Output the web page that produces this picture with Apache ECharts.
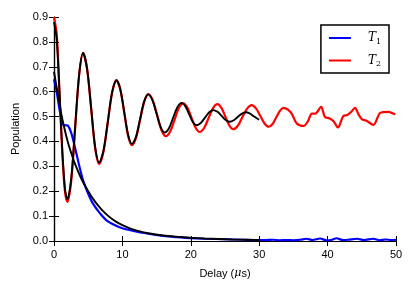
<!DOCTYPE html>
<html><head><meta charset="utf-8">
<script src="https://cdn.jsdelivr.net/npm/echarts@6/dist/echarts.min.js"></script>
<style>html,body{margin:0;padding:0;background:#fff}#c{width:415px;height:294px}</style>
</head><body><div id="c"></div>
<script>
const xTicks = [0, 10, 20, 30, 40, 50];
const yTicks = ['0.0','0.1','0.2','0.3','0.4','0.5','0.6','0.7','0.8','0.9'];

// T1 measurement (blue)
const t1X = [0,0.35,0.8,1.3,1.7,2.05,2.55,3.27,3.8,4.25,5,5.7,6.7,7.67,9,10.1,12.3,14,16,18,20,22,25,28,30,31,32,33,34,35,36,36.9,37.8,38.9,39.8,40.5,41.3,42.2,43,44.3,45.3,46.7,47.6,48.5,49.3,50];
const t1Y = [0.65,0.606,0.53,0.468,0.465,0.463,0.432,0.352,0.29,0.244,0.19,0.15,0.112,0.083,0.062,0.05,0.036,0.028,0.02,0.015,0.011,0.009,0.007,0.005,0.004,0.004,0.005,0.003,0.004,0.003,0.005,0.009,0.004,0.01,0.003,0.004,0.011,0.004,0.005,0.009,0.004,0.009,0.003,0.006,0.004,0.005];

// T2 measurement (red)
const t2X = [0,0.4,0.8,1.2,1.6,1.96,2.53,3.1,3.68,4.25,4.84,5.43,6.01,6.6,7.23,7.87,8.5,9.13,9.7,10.27,10.83,11.4,12.0,12.6,13.2,13.8,14.44,15.08,15.71,16.35,16.99,17.63,18.26,18.9,19.5,20.1,20.7,21.3,21.95,22.6,23.25,23.9,24.48,25.05,25.63,26.2,26.88,27.55,28.23,28.9,29.53,30.15,30.78,31.4,31.95,32.5,33.05,33.6,34.2,34.75,35.5,36.5,37.1,37.7,38.2,39.05,39.6,40.3,40.9,41.5,42.3,42.9,43.5,44.0,44.5,45.0,45.7,46.7,47.7,48.9,49.9,50];
const t2Y = [0.9,0.83,0.6,0.36,0.2,0.157,0.245,0.457,0.668,0.756,0.691,0.533,0.374,0.309,0.358,0.478,0.597,0.646,0.608,0.516,0.423,0.385,0.415,0.488,0.56,0.59,0.565,0.506,0.446,0.421,0.44,0.487,0.534,0.553,0.536,0.496,0.455,0.438,0.454,0.494,0.534,0.55,0.535,0.5,0.464,0.449,0.463,0.498,0.532,0.546,0.533,0.503,0.472,0.459,0.47,0.497,0.524,0.535,0.528,0.512,0.472,0.462,0.48,0.512,0.512,0.539,0.499,0.492,0.48,0.456,0.502,0.506,0.52,0.535,0.51,0.49,0.483,0.466,0.515,0.519,0.51,0.51];

// T1 fit (black)
const f1X = [0,0.5,1,1.5,2,2.5,3,4,5,6,7,8,9,10,11,12,14,16,18,20,22,24,26,28,30];
const f1Y = [0.68,0.6,0.52,0.455,0.4,0.355,0.315,0.25,0.2,0.158,0.125,0.099,0.079,0.064,0.052,0.043,0.03,0.022,0.017,0.013,0.01,0.008,0.006,0.005,0.004];

// T2 fit (black)
const f2X = [0,0.4,0.8,1.2,1.6,1.96,2.53,3.1,3.68,4.25,4.84,5.43,6.01,6.6,7.23,7.87,8.5,9.13,9.7,10.27,10.83,11.4,11.99,12.58,13.17,13.76,14.37,14.98,15.59,16.2,16.81,17.43,18.04,18.65,19.2,19.75,20.3,20.85,21.46,22.08,22.69,23.3,23.9,24.5,25.1,25.7,26.28,26.85,27.43,28.0,28.6,29.2,29.7,30];
const f2Y = [0.88,0.81,0.6,0.37,0.21,0.168,0.254,0.462,0.67,0.756,0.692,0.536,0.379,0.315,0.363,0.48,0.598,0.646,0.609,0.518,0.427,0.39,0.419,0.49,0.56,0.589,0.567,0.513,0.458,0.436,0.453,0.496,0.538,0.555,0.542,0.51,0.478,0.465,0.474,0.496,0.517,0.526,0.519,0.503,0.486,0.479,0.485,0.498,0.511,0.517,0.513,0.501,0.492,0.488];

const zip = (xs, ys) => xs.map((x, i) => [x, ys[i]]);
const FONT = 'Liberation Sans';
const FS = 11;
const chart = echarts.init(document.getElementById('c'), null, {renderer: 'canvas'});

const axisCommon = {
  axisLine: {show: true, lineStyle: {color: '#000', width: 1.2}},
  axisTick: {show: true, inside: true, length: 5, lineStyle: {color: '#000', width: 1}},
  splitLine: {show: false}
};

chart.setOption({
  animation: false,
  backgroundColor: '#fff',
  grid: {left: 54, right: 19, top: 17, bottom: 53, containLabel: false},
  xAxis: [
    Object.assign({type: 'value', min: 0, max: 50, interval: 10, position: 'bottom',
      name: '{a|Delay (}{m|μ}{a|s)}', nameLocation: 'middle', nameGap: 27,
      nameTextStyle: {rich: {a: {fontFamily: FONT, fontSize: FS, color: '#000'}, m: {fontFamily: 'DejaVu Serif', fontStyle: 'italic', fontSize: FS, color: '#000'}}},
      axisLabel: {fontFamily: FONT, fontSize: FS, color: '#000', margin: 8,
        formatter: v => xTicks.includes(v) ? String(v) : ''}}, axisCommon),
    Object.assign({type: 'value', min: 0, max: 50, interval: 10, position: 'top',
      axisLabel: {show: false}}, axisCommon)
  ],
  yAxis: [
    Object.assign({type: 'value', min: 0, max: 0.9, interval: 0.1, position: 'left',
      name: 'Population', nameLocation: 'middle', nameGap: 33,
      nameTextStyle: {fontFamily: FONT, fontSize: FS, color: '#000'},
      axisLabel: {fontFamily: FONT, fontSize: FS, color: '#000', margin: 6,
        formatter: v => yTicks[Math.round(v * 10)]}}, axisCommon),
    Object.assign({type: 'value', min: 0, max: 0.9, interval: 0.1, position: 'right',
      axisLabel: {show: false}}, axisCommon)
  ],
  legend: {
    orient: 'vertical', right: 26, top: 25,
    data: ['T1', 'T2'],
    backgroundColor: '#fff', borderColor: '#000', borderWidth: 1.5, borderRadius: 0,
    padding: [7, 8, 5, 8], itemGap: 9, itemWidth: 22, itemHeight: 13,
    icon: 'path://M0,6 L22,6 L22,8 L0,8 Z',
    formatter: name => '{i|T}{s|' + name.slice(1) + '}',
    textStyle: {rich: {
      i: {fontFamily: 'DejaVu Serif', fontStyle: 'italic', fontSize: 12, color: '#000', padding: [0, 0, 0, 12]},
      s: {fontFamily: 'DejaVu Serif', fontSize: 8, color: '#000', padding: [7, 0, 0, 0]}
    }}
  },
  series: [
    {name: 'T1', type: 'line', data: zip(t1X, t1Y), showSymbol: false, smooth: 0.3,
      color: '#0000ff', lineStyle: {color: '#0000ff', width: 2.2}, clip: true, z: 2},
    {name: 'T2', type: 'line', data: zip(t2X, t2Y), showSymbol: false, smooth: 0.3,
      color: '#ff0000', lineStyle: {color: '#ff0000', width: 2.2}, clip: true, z: 3},
    {name: 'fit1', type: 'line', data: zip(f1X, f1Y), showSymbol: false, smooth: 0.3,
      lineStyle: {color: '#000', width: 1.9}, clip: true, z: 4},
    {name: 'fit2', type: 'line', data: zip(f2X, f2Y), showSymbol: false, smooth: 0.3,
      lineStyle: {color: '#000', width: 1.9}, clip: true, z: 4}
  ]
});
</script>
</body></html>
